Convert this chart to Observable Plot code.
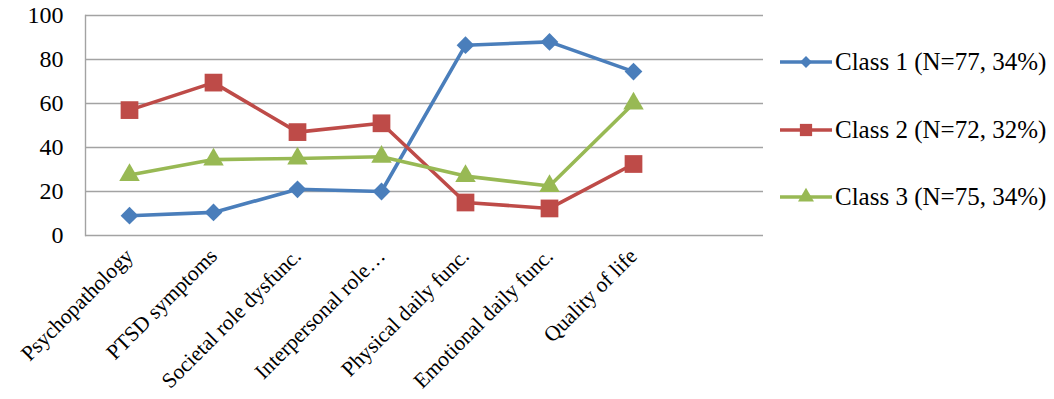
<!DOCTYPE html>
<html>
<head>
<meta charset="utf-8">
<script src="https://cdn.jsdelivr.net/npm/d3@7"></script>
<script src="https://cdn.jsdelivr.net/npm/@observablehq/plot@0.6"></script>
<style>
  html, body { margin: 0; padding: 0; background: #fff; }
  #wrap { position: relative; width: 1054px; height: 399px; }
  #wrap svg text { font-family: "Liberation Serif", "Times New Roman", serif !important; }
  #legend { position: absolute; left: 778px; top: 0; font-family: "Liberation Serif", "Times New Roman", serif; font-size: 25px; color: #000; }
  .row { position: absolute; left: 0; display: flex; align-items: center; white-space: nowrap; height: 30px; }
  .row svg { display: block; margin-right: 1px; }
</style>
</head>
<body>
<div id="wrap"><div id="legend"></div></div>
<script>
const categories = ["Psychopathology", "PTSD symptoms", "Societal role dysfunc.", "Interpersonal role…", "Physical daily func.", "Emotional daily func.", "Quality of life"];
const seriesNames = ["Class 1 (N=77, 34%)", "Class 2 (N=72, 32%)", "Class 3 (N=75, 34%)"];
const class1 = [9, 10.5, 21, 20, 86.5, 88, 74.5];
const class2 = [57, 69.5, 47, 51, 15, 12.3, 32.5];
const class3 = [27.5, 34.5, 35, 35.8, 27, 22.5, 60];
const yTicks = [0, 20, 40, 60, 80, 100];
const colors = ["#4A7EBB", "#BE4B48", "#98B954"];
const symbols = ["diamond2", "square", "triangle"];
const radii = [8, 10, 7.6];

const allSeries = [class1, class2, class3];
const data = [];
allSeries.forEach((vals, s) => vals.forEach((v, i) => data.push({series: seriesNames[s], cat: categories[i], value: v})));

const marks = [
  Plot.ruleY(yTicks, {stroke: "#a3a3a3", strokeWidth: 1.4}),
  Plot.frame({anchor: "left", stroke: "#a3a3a3", strokeWidth: 1.4}),
  Plot.axisY({ticks: yTicks, tickSize: 0, tickPadding: 22, fontSize: 24, fill: "#000", label: null}),
  Plot.axisX({tickSize: 0, tickRotate: -45, tickPadding: 17, fontSize: 21.5, fill: "#000", label: null})
];
seriesNames.forEach((name, s) => {
  const d = data.filter(r => r.series === name);
  marks.push(Plot.line(d, {x: "cat", y: "value", stroke: colors[s], strokeWidth: 3.6, strokeLinejoin: "round"}));
});
seriesNames.forEach((name, s) => {
  const d = data.filter(r => r.series === name);
  marks.push(Plot.dot(d, {x: "cat", y: "value", symbol: () => symbols[s], fill: colors[s], stroke: "none", r: radii[s]}));
});

const chart = Plot.plot({
  width: 1054,
  height: 399,
  marginLeft: 85,
  marginRight: 291,
  marginTop: 15,
  marginBottom: 164,
  style: {background: "#fff"},
  x: {type: "point", domain: categories, range: [127, 634], padding: 0, label: null},
  y: {domain: [0, 100], label: null},
  symbol: {type: "identity"},
  marks
});
document.getElementById("wrap").prepend(chart);

// legend
const legend = document.getElementById("legend");
const legendTops = [47, 115, 182];
seriesNames.forEach((name, s) => {
  const row = document.createElement("div");
  row.className = "row";
  row.style.top = legendTops[s] + "px";
  const svg = d3.create("svg").attr("width", 56).attr("height", 30);
  svg.append("line").attr("x1", 2).attr("x2", 54).attr("y1", 15).attr("y2", 15).attr("stroke", colors[s]).attr("stroke-width", 3.6);
  const sym = [d3.symbolDiamond2, d3.symbolSquare, d3.symbolTriangle][s];
  const sizes = [90, 150, 110];
  svg.append("path").attr("transform", "translate(28,15)").attr("d", d3.symbol(sym, sizes[s])()).attr("fill", colors[s]);
  row.appendChild(svg.node());
  const span = document.createElement("span");
  span.textContent = name;
  row.appendChild(span);
  legend.appendChild(row);
});
</script>
</body>
</html>
